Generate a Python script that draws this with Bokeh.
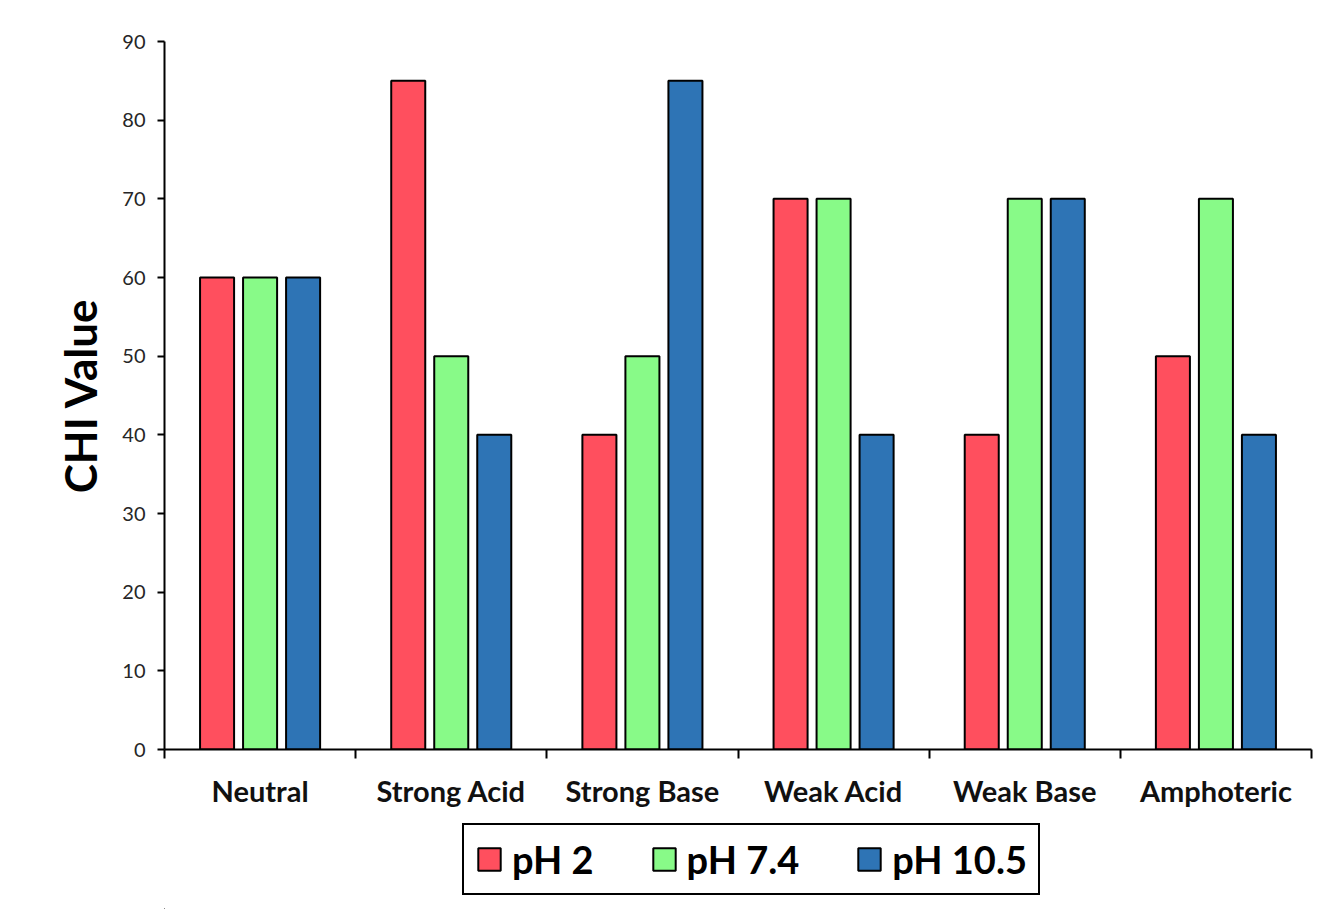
from bokeh.plotting import figure
from bokeh.layouts import column
from bokeh.models import (ColumnDataSource, Range1d, FixedTicker, Legend, LegendItem)
from bokeh.embed import file_html
from bokeh.resources import INLINE

categories = ["Neutral", "Strong Acid", "Strong Base", "Weak Acid", "Weak Base", "Amphoteric"]
series_names = ["pH 2", "pH 7.4", "pH 10.5"]
ph2 = [60, 85, 40, 70, 40, 50]
ph74 = [60, 50, 50, 70, 70, 70]
ph105 = [60, 40, 85, 40, 70, 40]
y_ticks = [0, 10, 20, 30, 40, 50, 60, 70, 80, 90]

colors = ["#FF4F5E", "#88FA88", "#2E74B5"]
FONT = "Lato"

n = len(categories)
centers = [i + 0.5 for i in range(n)]
boundaries = list(range(n + 1))
values = {"pH 2": ph2, "pH 7.4": ph74, "pH 10.5": ph105}

p = figure(width=1326, height=815, x_range=Range1d(0, n), y_range=Range1d(0, 90),
           output_backend="svg", toolbar_location=None,
           min_border_left=164, min_border_right=15, min_border_top=41, min_border_bottom=66)
p.outline_line_color = None
p.xgrid.visible = False
p.ygrid.visible = False
p.background_fill_color = "white"
p.border_fill_color = "white"

xa = p.xaxis[0]
xa.ticker = FixedTicker(ticks=centers, minor_ticks=boundaries)
xa.major_label_overrides = {c: name for c, name in zip(centers, categories)}
xa.axis_line_color = "black"
xa.axis_line_width = 2
xa.major_tick_line_color = None
xa.major_tick_out = 0
xa.major_tick_in = 0
xa.minor_tick_line_color = "black"
xa.minor_tick_line_width = 2
xa.minor_tick_out = 9
xa.minor_tick_in = 0
xa.major_label_standoff = 14
xa.major_label_text_font = FONT
xa.major_label_text_font_style = "bold"
xa.major_label_text_font_size = "29px"
xa.major_label_text_color = "#111111"

ya = p.yaxis[0]
ya.ticker = FixedTicker(ticks=y_ticks)
ya.axis_line_color = "black"
ya.axis_line_width = 2
ya.major_tick_line_width = 2
ya.major_tick_out = 7
ya.major_tick_in = 0
ya.minor_tick_line_color = None
ya.major_label_text_font = FONT
ya.major_label_text_font_size = "20px"
ya.major_label_text_color = "#262626"
ya.major_label_standoff = 12
ya.axis_label = "CHI Value"
ya.axis_label_text_font = FONT
ya.axis_label_text_font_style = "bold"
ya.axis_label_text_font_size = "44px"
ya.axis_label_text_color = "black"
ya.axis_label_standoff = 13

offsets = [-0.225, 0.0, 0.225]
for name, off, c in zip(series_names, offsets, colors):
    s = ColumnDataSource(dict(x=[v + off for v in centers], top=values[name]))
    p.vbar(x="x", top="top", width=0.178, source=s,
           fill_color=c, line_color="black", line_width=2)

# legend panel below the chart (its swatch renderers lie far outside the visible range)
lp = figure(width=1326, height=94, x_range=Range1d(0, 1), y_range=Range1d(0, 1),
            output_backend="svg", toolbar_location=None,
            min_border=0, min_border_left=0, min_border_right=0, min_border_top=0, min_border_bottom=0)
lp.axis.visible = False
lp.grid.visible = False
lp.outline_line_color = None
lp.background_fill_color = "white"
lp.border_fill_color = "white"

items = []
for name, c in zip(series_names, colors):
    r = lp.vbar(x=[-50], top=[-50], bottom=[-51], width=0.1, fill_color=c, line_color="black", line_width=2)
    items.append(LegendItem(label=name, renderers=[r]))

legend = Legend(items=items, orientation="horizontal", location=(298, 14))
legend.label_text_font = FONT
legend.label_text_font_style = "bold"
legend.label_text_font_size = "38px"
legend.label_text_color = "black"
legend.glyph_width = 28
legend.glyph_height = 28
legend.label_standoff = 9
legend.spacing = 56
legend.padding = 11
legend.margin = 0
legend.border_line_color = "black"
legend.border_line_width = 2
legend.border_line_alpha = 1
legend.background_fill_alpha = 1
lp.add_layout(legend, "center")

layout = column(p, lp, spacing=0)
open("out.html", "w").write(file_html(layout, INLINE))
